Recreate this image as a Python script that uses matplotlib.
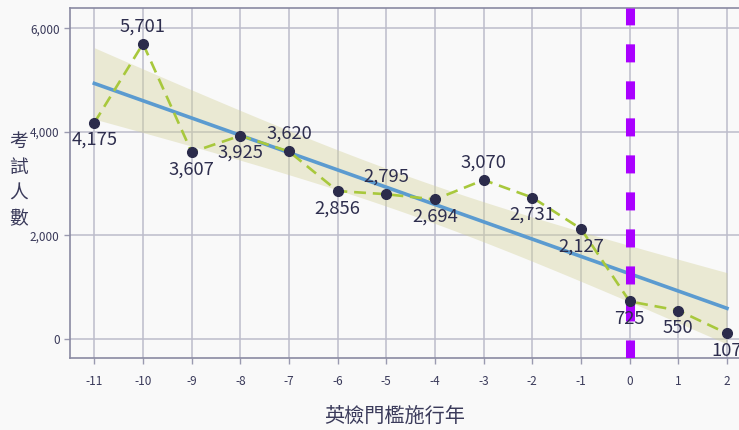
import numpy as np
import matplotlib
matplotlib.use("Agg")
import matplotlib.pyplot as plt

plt.rcParams['font.family'] = ['Noto Sans CJK TC', 'DejaVu Sans']

# ---- data ----
years = [-11, -10, -9, -8, -7, -6, -5, -4, -3, -2, -1, 0, 1, 2]
takers = [4175, 5701, 3607, 3925, 3620, 2856, 2795, 2694, 3070, 2731, 2127, 725, 550, 107]
label_side = ['below', 'above', 'below', 'below', 'above', 'below', 'above',
              'below', 'above', 'below', 'below', 'below', 'below', 'below']
yticks = [0, 2000, 4000, 6000]
policy_year = 0
xlabel = '英檢門檻施行年'
ylabel = '考試人數'

x = np.array(years, dtype=float)
y = np.array(takers, dtype=float)

# linear regression with 95% CI (as seaborn regplot)
slope, intercept = np.polyfit(x, y, 1)
xs = np.linspace(x.min(), x.max(), 200)
fit = slope * xs + intercept
resid = y - (slope * x + intercept)
n = len(x)
s = np.sqrt(np.sum(resid ** 2) / (n - 2))
sxx = np.sum((x - x.mean()) ** 2)
se = s * np.sqrt(1 / n + (xs - x.mean()) ** 2 / sxx)
tval = 2.179
lo, hi = fit - tval * se, fit + tval * se

bg = '#f9f9f9'
fig = plt.figure(figsize=(7.39, 4.30), dpi=100, facecolor=bg)
ax = fig.add_axes([70 / 739, (430 - 358) / 430, 1 - 70 / 739, (358 - 8) / 430])
ax.set_facecolor(bg)

ax.set_xlim(-11.5, 2.247)
ax.set_ylim(-367, 6390)

ax.set_xticks(years)
ax.set_xticklabels([str(v) for v in years])
ax.set_yticks(yticks)
ax.set_yticklabels([f'{v:,}' for v in yticks])

ax.grid(True, color='#bcbccb', linewidth=1.1, zorder=0)
ax.set_axisbelow(True)

ax.spines['right'].set_visible(False)
for sp in ['left', 'bottom', 'top']:
    ax.spines[sp].set_color('#8a8aa2')
    ax.spines[sp].set_linewidth(1.2)

ax.tick_params(axis='both', colors='#9a9ab0', labelcolor='#3a3a5a',
               labelsize=8.5, length=4, width=1)
ax.tick_params(axis='x', pad=8)

ax.fill_between(xs, lo, hi, color='#d4d29a', alpha=0.4, linewidth=0, zorder=1)
ax.plot(xs, fit, color='#5b9bd0', linewidth=2.6, zorder=2)

ax.axvline(policy_year, color='#aa00ff', linewidth=6.5,
           dashes=(2.0, 2.1), zorder=3)

ax.plot(x, y, color='#a8c83c', linewidth=1.9, dashes=(4.5, 2.6), zorder=4)
ax.plot(x, y, 'o', color='#2b2b4b', markersize=7, zorder=5)

for xi, yi, side in zip(years, takers, label_side):
    off = 12.5 if side == 'above' else -12.5
    ax.annotate(f'{yi:,}', (xi, yi), xytext=(0, off), textcoords='offset points',
                ha='center', va='center', fontsize=13.3, color='#2e2e4e',
                zorder=6, annotation_clip=False)

ax.set_xlabel(xlabel, fontsize=14.5, color='#3a3a5a', va='center')
ax.xaxis.set_label_coords((395 - 70) / 669, -58 / 350)
ax.set_ylabel('\n'.join(ylabel), fontsize=13.5, color='#3a3a5a', rotation=0,
              linespacing=1.3, va='center', ha='center')
ax.yaxis.set_label_coords((19 - 70) / 669, (358 - 180) / 350)

fig.savefig('out.png', dpi=100, facecolor=bg)
